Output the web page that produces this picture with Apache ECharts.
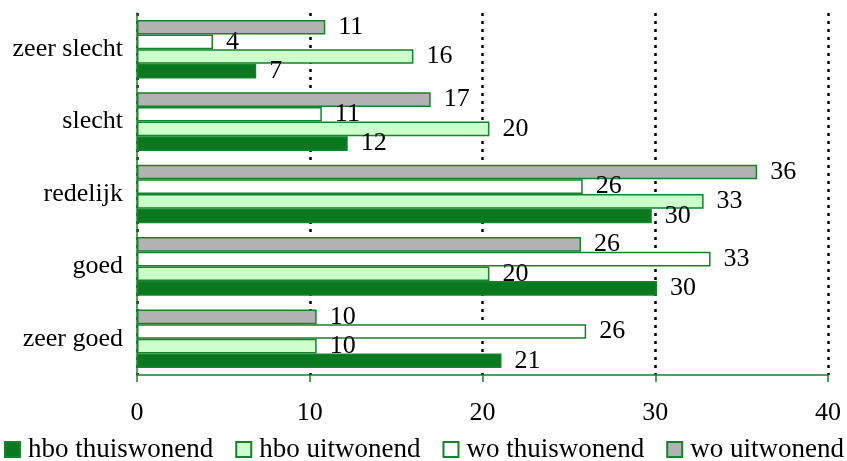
<!DOCTYPE html>
<html><head><meta charset="utf-8">
<script src="https://cdn.jsdelivr.net/npm/echarts@6/dist/echarts.min.js"></script>
<style>html,body{margin:0;padding:0;background:#fff}#c{width:847px;height:461px}</style>
</head><body><div id="c"></div>
<script>
const categories = ['zeer goed', 'goed', 'redelijk', 'slecht', 'zeer slecht'];
const seriesNames = ['hbo thuiswonend', 'hbo uitwonend', 'wo thuiswonend', 'wo uitwonend'];
const hboThuis = [21.1, 30.1, 29.8, 12.2, 6.9];
const hboUit = [10.4, 20.4, 32.8, 20.4, 16.0];
const woThuis = [26.0, 33.2, 25.8, 10.7, 4.4];
const woUit = [10.4, 25.7, 35.9, 17.0, 10.9];
const xTicks = [0, 10, 20, 30, 40];

const green = '#13842a';
const font = 'Liberation Serif';
const fills = ['#0a781e', '#ccffcc', '#ffffff', '#b2b2b2'];
const values = [hboThuis, hboUit, woThuis, woUit];

const chart = echarts.init(document.getElementById('c'));
// ECharts places the first series at the top of a band on a vertical category axis,
// so series are added in reverse to put hbo thuiswonend at the bottom.
const order = [3, 2, 1, 0];
chart.setOption({
  animation: false,
  grid: {left: 137, right: 19, top: 13, bottom: 86},
  legend: {
    top: 436, left: 4, right: 0, padding: 0, itemWidth: 15, itemHeight: 15, itemGap: 22,
    data: seriesNames,
    textStyle: {fontFamily: font, fontSize: 27, color: '#000', padding: [0, 0, 0, 3]},
    icon: 'rect'
  },
  xAxis: {
    type: 'value', min: xTicks[0], max: xTicks[xTicks.length - 1], interval: 10,
    axisLine: {show: true, lineStyle: {color: green, width: 1.5}},
    axisTick: {show: true, length: 7, lineStyle: {color: green, width: 1.5}},
    axisLabel: {fontFamily: font, fontSize: 26, color: '#000', margin: 25},
    splitLine: {show: true, lineStyle: {color: '#000', type: [3, 5], width: 2.5}}
  },
  yAxis: {
    type: 'category', data: categories,
    axisLine: {show: true, lineStyle: {color: green, width: 1.5}},
    axisTick: {show: false},
    axisLabel: {fontFamily: font, fontSize: 26, color: '#000', margin: 14}
  },
  series: order.map(i => ({
    name: seriesNames[i], type: 'bar', data: values[i],
    barGap: '0%', barCategoryGap: '19%',
    itemStyle: {color: fills[i], borderColor: green, borderWidth: 1.5},
    label: {
      show: true, position: 'right', distance: 13,
      fontFamily: font, fontSize: 26, color: '#000',
      formatter: p => Math.round(p.value)
    }
  }))
});
</script></body></html>
